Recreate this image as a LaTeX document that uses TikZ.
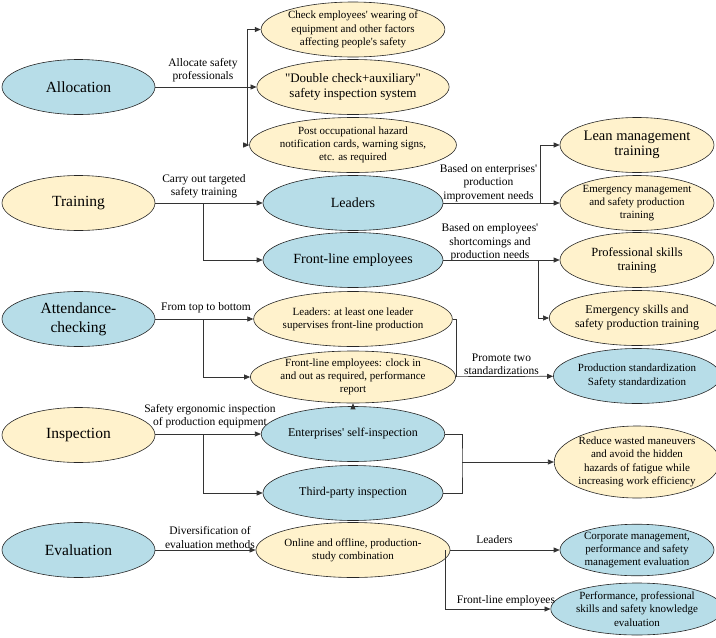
\documentclass[tikz,border=0pt]{standalone}
\usepackage{fontspec}
\setmainfont{Liberation Serif}[Ligatures=TeXOff]
\usetikzlibrary{positioning,arrows.meta,shapes.geometric}

\definecolor{paleblue}{RGB}{183,221,232}
\definecolor{paleyellow}{RGB}{255,242,204}

\begin{document}
\begin{tikzpicture}[
  x=1pt, y=-1pt,
  oval/.style = {
    ellipse, draw=black!85, line width=0.6pt, inner sep=0pt, align=center,
  },
  topic/.style = {
    oval, minimum width=153pt, minimum height=55pt,
    font=\fontsize{15.5}{19}\selectfont,
  },
  item/.style = {
    oval, minimum width=180pt, minimum height=55pt,
    font=\fontsize{11}{13.2}\selectfont,
  },
  goal/.style = {
    oval, minimum width=154pt, minimum height=55pt,
    font=\fontsize{11}{13.4}\selectfont,
  },
  cool/.style = {fill=paleblue},
  warm/.style = {fill=paleyellow},
  arrow/.style = {-{Triangle[length=6pt,width=5pt]}, line width=0.7pt, draw=black!80},
  wire/.style = {line width=0.7pt, draw=black!80},
  tag/.style = {font=\fontsize{11.5}{13.4}\selectfont, align=center, inner sep=0pt},
]
  \useasboundingbox (0,0) rectangle (716,638);

  % left column
  \node[topic, cool] (alloc)  at (78.5,87)  {Allocation};
  \node[topic, warm] (train)  at (78.5,203) {Training};
  \node[topic, cool] (attend) at (78.5,319) {Attendance-\\checking};
  \node[topic, warm] (insp)   at (78.5,435) {Inspection};
  \node[topic, cool] (eval)   at (78.5,550) {Evaluation};

  % middle column
  \node[item, warm] (wear)   at (353,29.5) {Check employees' wearing of\\equipment and other factors\\affecting people's safety};
  \node[item, warm, font=\fontsize{13}{15}\selectfont] (double) at (353,87) {"Double check+auxiliary"\\safety inspection system};
  \node[item, warm] (post)   at (353,145) {Post occupational hazard\\notification cards, warning signs,\\etc. as required};
  \node[item, cool, font=\fontsize{14}{16}\selectfont] (lead)  at (353,203) {Leaders};
  \node[item, cool, font=\fontsize{14}{16}\selectfont] (front) at (353,260) {Front-line employees};
  \node[item, warm] (super)  at (353,319) {Leaders: at least one leader\\supervises front-line production};
  \node[item, warm, minimum height=52pt] (clock) at (353,377) {Front-line employees: clock in\\and out as required, performance\\report};
  \node[item, cool, font=\fontsize{12}{14}\selectfont] (self)  at (353,434) {Enterprises' self-inspection};
  \node[item, cool, font=\fontsize{12}{14}\selectfont] (third) at (353,493) {Third-party inspection};
  \node[item, warm] (online) at (353,550) {Online and offline, production-\\study combination};

  % right column
  \node[goal, warm, font=\fontsize{14.5}{15.5}\selectfont] (lean) at (637,145) {Lean management\\training};
  \node[goal, warm] (emg)    at (637,203) {Emergency management\\and safety production\\training};
  \node[goal, warm, font=\fontsize{12.5}{14}\selectfont] (prof) at (637,260) {Professional skills\\training};
  \node[goal, warm, font=\fontsize{12}{14}\selectfont] (skill) at (637,318) {Emergency skills and\\safety production training};
  \node[goal, cool] (std)    at (637,376) {Production standardization\\Safety standardization};
  \node[goal, warm, minimum height=72pt] (reduce) at (637,462) {Reduce wasted maneuvers\\and avoid the hidden\\hazards of fatigue while\\increasing work efficiency};
  \node[goal, cool, minimum height=51pt] (corp) at (637,550) {Corporate management,\\performance and safety\\management evaluation};
  \node[goal, cool, minimum height=52pt] (perf) at (637,609) {Performance, professional\\skills and safety knowledge\\evaluation};

  % labels
  \node[tag] (t1)  at (203,70)    {Allocate safety\\professionals};
  \node[tag] (t2)  at (204,186.5) {Carry out targeted\\safety training};
  \node[tag] (t3)  at (206,308)   {From top to bottom};
  \node[tag] (t4)  at (210,416)   {Safety ergonomic inspection\\of production equipment};
  \node[tag] (t5)  at (210,537.5) {Diversification of\\evaluation methods};
  \node[tag] (t6)  at (488.5,183) {Based on enterprises'\\production\\improvement needs};
  \node[tag] (t7)  at (490,242.5) {Based on employees'\\shortcomings and\\production needs};
  \node[tag] (t8)  at (501.5,364.5) {Promote two\\standardizations};
  \node[tag] (t9)  at (494.5,540) {Leaders};
  \node[tag] (t10) at (506,601)   {Front-line employees};

  % junctions
  \coordinate (ja) at (247,87);
  \coordinate (jt) at (203,203);
  \coordinate (jc) at (203,319);
  \coordinate (ji) at (203,434);
  \coordinate (jl) at (540,203);
  \coordinate (jf) at (538,260);
  \coordinate (js) at (456,377);
  \coordinate (jr) at (462,462);
  \coordinate (jo) at (445,550);

  \draw[arrow] (alloc) -- (double);
  \draw[arrow] (ja) |- (wear);
  \draw[arrow] (ja) |- (post);

  \draw[arrow] (train) -- (lead);
  \draw[arrow] (jt) |- (front);

  \draw[arrow] (attend.east |- super) -- (super);
  \draw[arrow] (jc) |- (clock);

  \draw[arrow] (insp.east |- self) -- (self);
  \draw[arrow] (ji) |- (third);

  \draw[arrow] (eval) -- (online);

  \draw[arrow] (lead) -- (emg);
  \draw[arrow] (jl) |- (lean);

  \draw[arrow] (front) -- (prof);
  \draw[arrow] (jf) |- (skill);

  \draw[wire] (super.east) -| (js);
  \draw[arrow] (clock) -- (std);

  \draw[arrow] (self.north) -- (clock.south);

  \draw[wire] (self.east) -| (jr) |- (third.east);
  \draw[arrow] (jr) -- (reduce);

  \draw[arrow] (online) -- (corp);
  \draw[arrow] (jo) |- (perf);
\end{tikzpicture}
\end{document}
